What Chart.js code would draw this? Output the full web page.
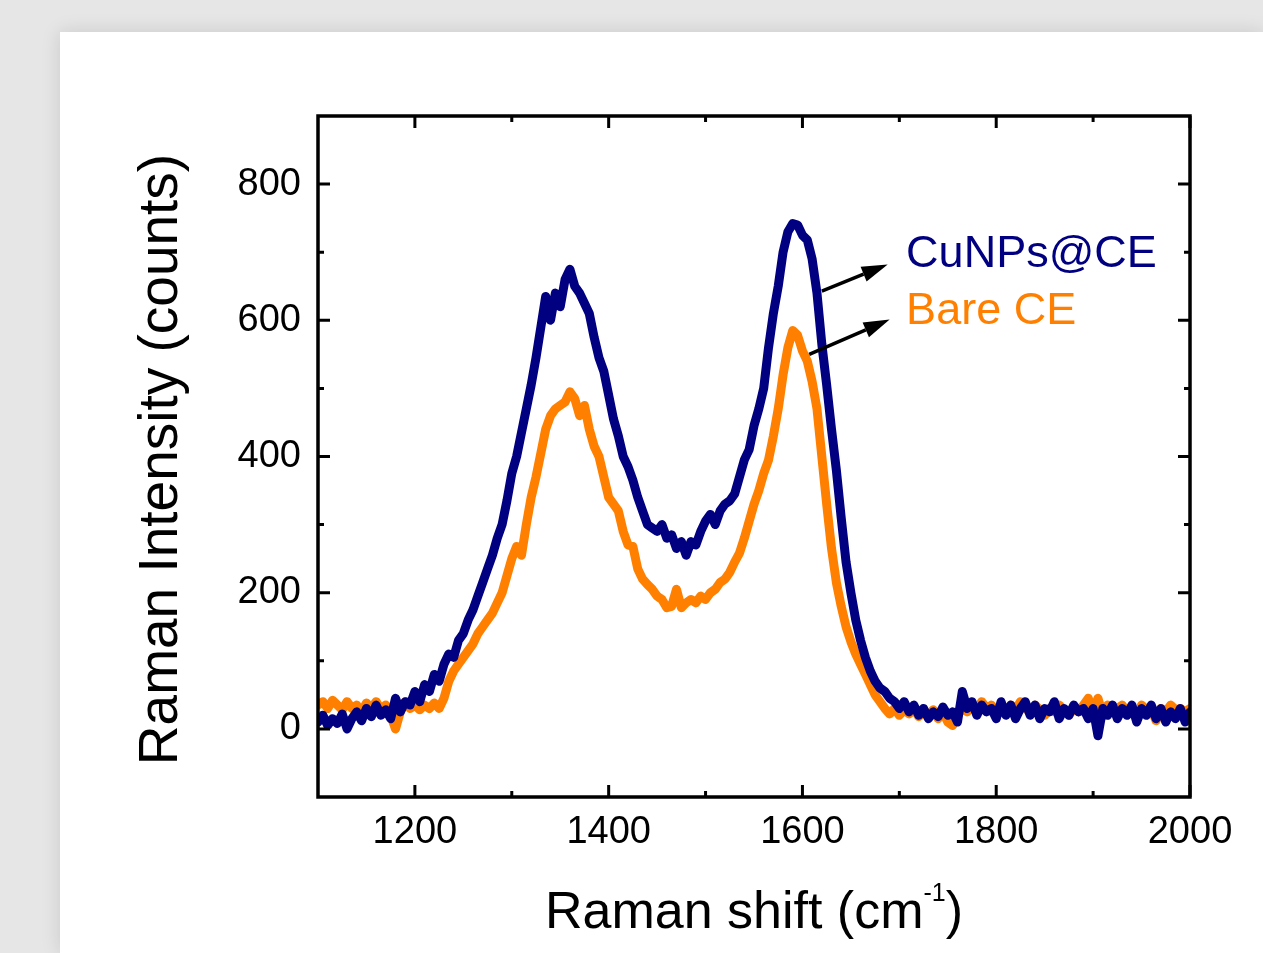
<!DOCTYPE html>
<html lang="en">
<head>
  <meta charset="UTF-8">
  <title>Raman spectra - CuNPs@CE vs Bare CE</title>
  <script src="https://cdn.jsdelivr.net/npm/chart.js"></script>
  <style>
    body { margin: 0; background: #e6e6e6; width: 1263px; height: 953px; overflow: hidden; position: relative; }
    .card { position: absolute; left: 60px; top: 32px; width: 1203px; height: 921px; background: #fff; box-shadow: 0 0 18px rgba(0,0,0,0.13); }
    canvas { display: block; }
  </style>
</head>
<body>
  <div class="card">
    <canvas id="raman" width="1203" height="921"></canvas>
  </div>

  <script>
    // Raman shift (cm-1)
    const shift = [
      1100,1105,1110,1115,1120,1125,1130,1135,1140,1145,1150,1155,1160,1165,1170,1175,1180,1185,1190,1195,
      1200,1205,1210,1215,1220,1225,1230,1235,1240,1245,1250,1255,1260,1265,1270,1275,1280,1285,1290,1295,
      1300,1305,1310,1315,1320,1325,1330,1335,1340,1345,1350,1355,1360,1365,1370,1375,1380,1385,1390,1395,
      1400,1405,1410,1415,1420,1425,1430,1435,1440,1445,1450,1455,1460,1465,1470,1475,1480,1485,1490,1495,
      1500,1505,1510,1515,1520,1525,1530,1535,1540,1545,1550,1555,1560,1565,1570,1575,1580,1585,1590,1595,
      1600,1605,1610,1615,1620,1625,1630,1635,1640,1645,1650,1655,1660,1665,1670,1675,1680,1685,1690,1695,
      1700,1705,1710,1715,1720,1725,1730,1735,1740,1745,1750,1755,1760,1765,1770,1775,1780,1785,1790,1795,
      1800,1805,1810,1815,1820,1825,1830,1835,1840,1845,1850,1855,1860,1865,1870,1875,1880,1885,1890,1895,
      1900,1905,1910,1915,1920,1925,1930,1935,1940,1945,1950,1955,1960,1965,1970,1975,1980,1985,1990,1995,
      2000
    ];

    // intensity (counts), CuNPs modified electrode
    const cunps = [
      10,20,5,15,8,22,0,15,25,12,30,18,35,20,28,15,45,25,40,35,
      55,40,65,55,80,70,95,110,105,130,140,160,175,195,215,235,255,280,300,335,
      375,400,435,470,505,545,590,635,600,640,620,660,675,650,640,625,610,575,545,525,
      490,455,430,400,385,365,340,320,300,295,290,300,280,285,265,275,255,275,270,290,
      305,315,300,320,330,335,345,370,395,410,445,470,500,560,610,650,700,730,742,740,
      725,718,690,640,565,505,440,380,310,245,200,160,130,105,85,70,60,55,45,40,
      30,40,25,35,20,30,15,25,18,32,20,25,10,55,30,40,20,35,25,30,
      15,40,20,35,15,30,40,20,35,15,30,25,40,15,30,20,35,25,30,15,
      30,-10,30,20,35,15,30,20,35,10,30,20,35,15,30,10,25,15,30,10,
      25
    ];

    // intensity (counts), bare electrode
    const bare = [
      35,40,30,42,35,28,40,30,35,25,38,30,40,28,35,20,0,25,40,30,
      35,28,35,30,38,30,45,70,85,95,105,115,125,140,150,160,170,185,200,225,
      250,268,255,300,340,370,405,440,460,470,475,480,495,485,460,475,440,415,400,370,
      340,330,320,290,270,268,235,220,212,205,195,190,178,180,205,178,185,190,185,195,
      190,200,205,215,220,230,245,258,280,305,330,350,375,395,430,470,520,560,585,578,
      555,540,510,470,400,330,265,215,180,150,128,110,95,80,65,50,40,30,22,30,
      20,28,22,30,18,25,20,28,15,25,10,5,20,30,25,35,28,40,30,35,
      25,30,22,35,28,40,30,25,35,28,20,30,25,35,28,20,30,25,35,45,
      25,45,20,35,28,30,35,25,30,20,35,28,30,12,30,25,35,28,30,25,
      30
    ];

    const xTicks = [1200, 1400, 1600, 1800, 2000];
    const xMinor = [1300, 1500, 1700, 1900];
    const yTicks = [0, 200, 400, 600, 800];
    const yMinor = [100, 300, 500, 700];

    const seriesNames = ['CuNPs@CE', 'Bare CE'];
    const seriesColors = ['#000080', '#ff8000'];

    // label anchors and arrows, in data units
    const labelPos = [[1707, 678], [1707, 594]];
    const arrows = [
      { from: [1620, 643], to: [1688, 682] },
      { from: [1607, 550], to: [1690, 601] }
    ];

    const FONT = '"Liberation Sans", Arial, Helvetica, sans-serif';

    function toPoints(ys) {
      return shift.map((x, i) => ({ x: x, y: ys[i] }));
    }

    // frame box with inward ticks on all four sides
    const frameTicks = {
      id: 'frameTicks',
      afterDraw(chart) {
        const { ctx, chartArea: a, scales } = chart;
        const sx = scales.x, sy = scales.y;
        ctx.save();
        ctx.strokeStyle = '#000';
        ctx.lineCap = 'butt';
        ctx.lineWidth = 3;
        const xMark = (v, len) => {
          const p = sx.getPixelForValue(v);
          ctx.beginPath();
          ctx.moveTo(p, a.bottom); ctx.lineTo(p, a.bottom - len);
          ctx.moveTo(p, a.top); ctx.lineTo(p, a.top + len);
          ctx.stroke();
        };
        const yMark = (v, len) => {
          const p = sy.getPixelForValue(v);
          ctx.beginPath();
          ctx.moveTo(a.left, p); ctx.lineTo(a.left + len, p);
          ctx.moveTo(a.right, p); ctx.lineTo(a.right - len, p);
          ctx.stroke();
        };
        xTicks.forEach(v => xMark(v, 12));
        xMinor.forEach(v => xMark(v, 6));
        yTicks.forEach(v => yMark(v, 12));
        yMinor.forEach(v => yMark(v, 6));

        ctx.lineWidth = 3.5;
        ctx.lineJoin = 'miter';
        ctx.strokeRect(a.left, a.top, a.right - a.left, a.bottom - a.top);

        // axis titles
        ctx.fillStyle = '#000';
        ctx.textBaseline = 'alphabetic';
        const main = 'Raman shift (cm';
        ctx.font = '52px ' + FONT;
        const wMain = ctx.measureText(main).width;
        const wClose = ctx.measureText(')').width;
        ctx.font = '25px ' + FONT;
        const wSup = ctx.measureText('-1').width;
        const cx = (a.left + a.right) / 2;
        let tx = cx - (wMain + wSup + wClose) / 2;
        const base = 896;
        ctx.textAlign = 'left';
        ctx.font = '52px ' + FONT;
        ctx.fillText(main, tx, base);
        tx += wMain;
        ctx.font = '25px ' + FONT;
        ctx.fillText('-1', tx, base - 27);
        tx += wSup;
        ctx.font = '52px ' + FONT;
        ctx.fillText(')', tx, base);

        ctx.save();
        ctx.translate(102, (a.top + a.bottom) / 2 + 3);
        ctx.rotate(-Math.PI / 2);
        ctx.textAlign = 'center';
        ctx.textBaseline = 'middle';
        ctx.font = '55px ' + FONT;
        ctx.fillText('Raman Intensity (counts)', 0, 0);
        ctx.restore();

        ctx.restore();
      }
    };

    // series labels with arrows pointing at them
    const seriesLabels = {
      id: 'seriesLabels',
      afterDatasetsDraw(chart) {
        const { ctx, scales } = chart;
        const sx = scales.x, sy = scales.y;
        ctx.save();
        ctx.font = '45px ' + FONT;
        ctx.textAlign = 'left';
        ctx.textBaseline = 'alphabetic';
        seriesNames.forEach((name, i) => {
          ctx.fillStyle = seriesColors[i];
          ctx.fillText(name, sx.getPixelForValue(labelPos[i][0]), sy.getPixelForValue(labelPos[i][1]));
        });

        ctx.strokeStyle = '#000';
        ctx.fillStyle = '#000';
        ctx.lineWidth = 3.5;
        arrows.forEach(ar => {
          const x1 = sx.getPixelForValue(ar.from[0]), y1 = sy.getPixelForValue(ar.from[1]);
          const x2 = sx.getPixelForValue(ar.to[0]), y2 = sy.getPixelForValue(ar.to[1]);
          const ang = Math.atan2(y2 - y1, x2 - x1);
          const headLen = 26, headW = 8;
          const bx = x2 - headLen * Math.cos(ang), by = y2 - headLen * Math.sin(ang);
          ctx.beginPath();
          ctx.moveTo(x1, y1);
          ctx.lineTo(bx, by);
          ctx.stroke();
          ctx.beginPath();
          ctx.moveTo(x2, y2);
          ctx.lineTo(bx + headW * Math.sin(ang), by - headW * Math.cos(ang));
          ctx.lineTo(bx - headW * Math.sin(ang), by + headW * Math.cos(ang));
          ctx.closePath();
          ctx.fill();
        });
        ctx.restore();
      }
    };

    const tickFont = { family: FONT, size: 38 };
    const plainLabel = v => String(v);

    new Chart(document.getElementById('raman'), {
      type: 'line',
      data: {
        datasets: [
          {
            label: seriesNames[0],
            data: toPoints(cunps),
            borderColor: seriesColors[0],
            borderWidth: 9,
            pointRadius: 0,
            tension: 0,
            borderJoinStyle: 'round',
            borderCapStyle: 'round'
          },
          {
            label: seriesNames[1],
            data: toPoints(bare),
            borderColor: seriesColors[1],
            borderWidth: 9,
            pointRadius: 0,
            tension: 0,
            borderJoinStyle: 'round',
            borderCapStyle: 'round'
          }
        ]
      },
      options: {
        responsive: false,
        animation: false,
        layout: { padding: { top: 84, right: 73, left: 0, bottom: 0 } },
        plugins: { legend: { display: false }, tooltip: { enabled: false } },
        scales: {
          x: {
            type: 'linear',
            min: 1100,
            max: 2000,
            afterBuildTicks: s => { s.ticks = xTicks.map(v => ({ value: v })); },
            afterFit: s => { s.height = 156; },
            grid: { display: false, drawTicks: false },
            border: { display: false },
            ticks: { font: tickFont, color: '#000', padding: 13, maxRotation: 0, callback: plainLabel }
          },
          y: {
            type: 'linear',
            min: -100,
            max: 900,
            afterBuildTicks: s => { s.ticks = yTicks.map(v => ({ value: v })); },
            afterFit: s => { s.width = 258; },
            grid: { display: false, drawTicks: false },
            border: { display: false },
            ticks: { font: tickFont, color: '#000', padding: 17, callback: plainLabel }
          }
        }
      },
      plugins: [frameTicks, seriesLabels]
    });
  </script>
</body>
</html>
